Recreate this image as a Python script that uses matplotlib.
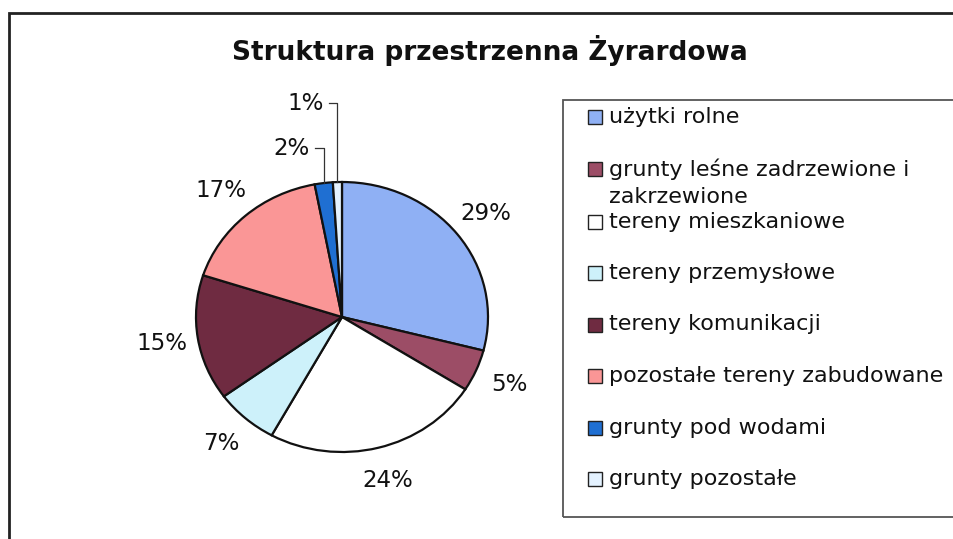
import matplotlib
matplotlib.use("Agg")
import matplotlib.pyplot as plt
from matplotlib.patches import Rectangle
import numpy as np

categories = ["użytki rolne", "grunty leśne zadrzewione i\nzakrzewione", "tereny mieszkaniowe",
              "tereny przemysłowe", "tereny komunikacji", "pozostałe tereny zabudowane",
              "grunty pod wodami", "grunty pozostałe"]
values = [29, 5, 24, 7, 15, 17, 2, 1]
colors = ["#8fb0f4", "#9c4d66", "#ffffff", "#cdf1fa", "#6f2b41", "#fa9696", "#1f6fd2", "#e4f2ff"]
title = "Struktura przestrzenna Żyrardowa"

plt.rcParams['font.family'] = ['DejaVu Sans']

W, H = 954, 539
fig = plt.figure(figsize=(W / 100, H / 100), dpi=100)
fig.patch.set_facecolor("white")

# outer frame
fig.patches.append(Rectangle((9 / W, -0.1), 1.2, (H - 13) / H + 0.1, transform=fig.transFigure,
                             fill=False, edgecolor="#222222", linewidth=2.0))

fig.text(490 / W, 1 - 50 / H, title, ha="center", va="center", fontsize=19, fontweight="bold",
         color="#111111")

# pie axes: center (342,317) px, radius 146 px horizontally, 135 px vertically
cx, cy, rx, ry = 342, 317, 146, 135
L = 1.8
ax = fig.add_axes([(cx - rx * L) / W, (H - cy - ry * L) / H, 2 * rx * L / W, 2 * ry * L / H])
wedges, _ = ax.pie(values, colors=colors, startangle=90, counterclock=False,
                   wedgeprops=dict(edgecolor="#111111", linewidth=1.6))
ax.set_aspect("auto")
ax.set_xlim(-L, L)
ax.set_ylim(-L, L)
ax.axis("off")

total = sum(values)
cum = 0
for i, v in enumerate(values):
    mid = np.deg2rad(90 - (cum + v / 2) / total * 360)
    cum += v
    lab = f"{v}%"
    if v >= 5:
        ax.text(1.25 * np.cos(mid), 1.25 * np.sin(mid), lab, ha="center", va="center",
                fontsize=16.5, color="#111111")
    else:
        ex, ey = np.cos(mid), np.sin(mid)
        ty = 1.25 if v == 2 else 1.585
        ax.plot([ex, ex, ex - 0.06], [ey, ty, ty], color="#333333", linewidth=0.9)
        ax.text(ex - 0.095, ty, lab, ha="right", va="center", fontsize=16.5, color="#111111")

# legend box
fig.patches.append(Rectangle((563 / W, 1 - 517 / H), 1.0, (517 - 100) / H, transform=fig.transFigure,
                             fill=False, edgecolor="#555555", linewidth=1.3))
y0, dy = 117, 51.5
for i, (c, lab) in enumerate(zip(colors, categories)):
    y = y0 + i * dy
    if i >= 2:
        y += 1.5
    fig.patches.append(Rectangle((588 / W, 1 - (y + 7) / H), 14 / W, 14 / H,
                                 transform=fig.transFigure, facecolor=c, edgecolor="#222222",
                                 linewidth=1.0))
    if "\n" in lab:
        fig.text(609 / W, 1 - (y + 14.5) / H, lab, ha="left", va="center",
                 fontsize=16, color="#111111", linespacing=1.45)
    else:
        fig.text(609 / W, 1 - y / H, lab, ha="left", va="center",
                 fontsize=16, color="#111111")

fig.savefig("out.png", dpi=100, facecolor="white")
